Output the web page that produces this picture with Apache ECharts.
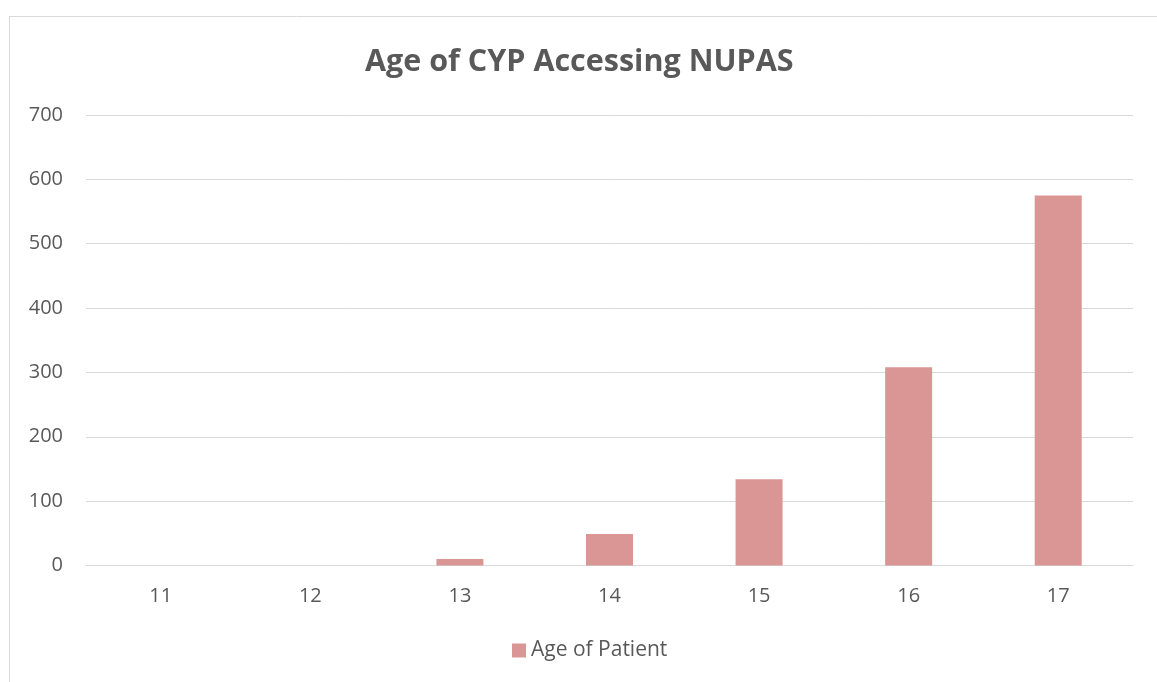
<!DOCTYPE html>
<html>
<head>
<meta charset="utf-8">
<script src="https://cdn.jsdelivr.net/npm/echarts@6/dist/echarts.min.js"></script>
<style>
html,body{margin:0;padding:0;background:#fff;}
#chart{width:1157px;height:682px;}
</style>
</head>
<body>
<div id="chart"></div>
<script>
const categories = ['11', '12', '13', '14', '15', '16', '17'];
const patientCounts = [0, 0, 10, 49, 134, 308, 575];
const yTicks = [0, 100, 200, 300, 400, 500, 600, 700];
const seriesName = 'Age of Patient';
const titleText = 'Age of CYP Accessing NUPAS';

const chart = echarts.init(document.getElementById('chart'));
chart.setOption({
  animation: false,
  backgroundColor: '#fff',
  graphic: [{
    type: 'rect',
    shape: { x: 9.5, y: 16.5, width: 1300, height: 800 },
    style: { fill: 'none', stroke: '#d9d9d9', lineWidth: 1 },
    silent: true
  }],
  title: {
    text: titleText,
    left: 360,
    top: 42,
    textStyle: { fontFamily: 'Open Sans', fontWeight: 'bold', fontSize: 30.5, color: '#595959' }
  },
  legend: {
    data: [seriesName],
    bottom: 16,
    left: 507,
    icon: 'rect',
    itemWidth: 14,
    itemHeight: 14,
    itemGap: 6,
    textStyle: { fontFamily: 'Open Sans', fontSize: 21, color: '#595959' }
  },
  grid: { left: 86, right: 24, top: 115, bottom: 116.5, containLabel: false },
  xAxis: {
    type: 'category',
    data: categories,
    axisTick: { show: false },
    axisLine: { lineStyle: { color: '#d9d9d9', width: 1 } },
    axisLabel: { fontFamily: 'Open Sans', fontSize: 20, color: '#595959', margin: 21 }
  },
  yAxis: {
    type: 'value',
    min: yTicks[0],
    max: yTicks[yTicks.length - 1],
    interval: 100,
    axisLine: { show: false },
    axisTick: { show: false },
    splitLine: { lineStyle: { color: '#d9d9d9', width: 1 } },
    axisLabel: { fontFamily: 'Open Sans', fontSize: 20, color: '#595959', margin: 23 }
  },
  series: [{
    name: seriesName,
    type: 'bar',
    data: patientCounts,
    barWidth: 47,
    itemStyle: { color: '#d99694' }
  }]
});
</script>
</body>
</html>
